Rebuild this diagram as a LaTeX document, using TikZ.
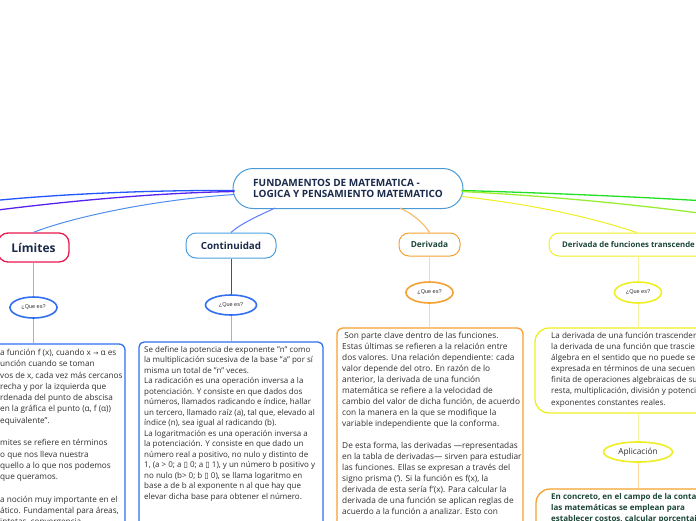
\documentclass[tikz,border=0pt]{standalone}
\usepackage{fontspec}
\setmainfont{Open Sans}
\newfontfamily\dv{DejaVu Sans}
\newfontfamily\ls{Liberation Sans}
\usetikzlibrary{shapes.geometric,calc}
\definecolor{navy}{HTML}{1A2A4A}
\definecolor{dgreen}{HTML}{1B4636}
\definecolor{body}{HTML}{2E2E2E}
\definecolor{cenB}{HTML}{4A9AD8}
\definecolor{limB}{HTML}{E8194F}
\definecolor{blueA}{HTML}{2F6FF0}
\definecolor{blueL}{HTML}{8AB4F8}
\definecolor{blueM}{HTML}{4D8EF0}
\definecolor{contB}{HTML}{4A9FE0}
\definecolor{contL}{HTML}{5A7CFF}
\definecolor{blueD}{HTML}{2A4AD8}
\definecolor{oraB}{HTML}{F5A030}
\definecolor{oraL}{HTML}{FFD59A}
\definecolor{yelB}{HTML}{EEEE22}
\definecolor{yelL}{HTML}{F6F3A0}
\definecolor{farBlue}{HTML}{2255FF}
\definecolor{farPur}{HTML}{5522EE}
\definecolor{farGreen}{HTML}{22E022}
\definecolor{farYG}{HTML}{99EE33}
\newcommand{\tofu}{{\dv\char"25AF}}
\begin{document}
\begin{tikzpicture}[x=1pt,y=-1pt,
  lbl/.style={rectangle,draw,line width=1.3pt,inner sep=0pt},
  qes/.style={ellipse,draw,line width=1.6pt,inner sep=0pt,minimum width=47pt,minimum height=21pt,font=\ls\fontsize{5.5}{6}\selectfont,text=body},
  tbox/.style={rectangle,draw,line width=1.3pt,inner sep=0pt},
  txt/.style={anchor=north west,inner sep=0pt,align=left,text=body},
  conn/.style={line width=1pt}]
\useasboundingbox (0,0) rectangle (696,520);
% central
\node[lbl,draw=cenB,line width=1pt,rounded corners=20pt,minimum width=230pt,minimum height=40pt,align=left,text=navy,font=\bfseries\fontsize{10}{11.4}\selectfont] (c) at (348,188.5) {FUNDAMENTOS DE MATEMATICA -\\LOGICA Y PENSAMIENTO MATEMATICO};
% labels
\node[lbl,draw=limB,rounded corners=10pt,minimum width=71pt,minimum height=29pt,text=navy,font=\bfseries\fontsize{12}{14}\selectfont] (lim) at (33.5,247.5) {Límites};
\node[lbl,draw=contB,line width=1pt,rounded corners=10pt,minimum width=90pt,minimum height=25pt,text=navy,font=\bfseries\fontsize{9.8}{12}\selectfont] (cont) at (231,245.5) {Continuidad};
\node[lbl,draw=oraB,line width=1pt,rounded corners=10pt,minimum width=61pt,minimum height=23pt,text=dgreen,font=\bfseries\fontsize{8.3}{10}\selectfont] (der) at (429.5,244.5) {Derivada};
\node[lbl,draw=yelB,line width=1pt,rounded corners=10pt,minimum width=211pt,minimum height=23pt] (trans) at (654.5,244.5) {};
\node[anchor=west,inner sep=0pt,text=dgreen,font=\bfseries\fontsize{7.8}{10}\selectfont] (transT) at (562,244.5) {Derivada de funciones transcende};
% que es
\node[qes,draw=blueA] (limq) at (33.5,307.5) {¿Que es?};
\node[qes,draw=blueA,minimum width=51pt,minimum height=20pt] (contq) at (231,305) {¿Que es?};
\node[qes,draw=oraB] (derq) at (429.5,292.5) {¿Que es?};
\node[qes,draw=yelB] (transq) at (638,292.5) {¿Que es?};
\node[qes,draw=yelB,minimum width=69pt,minimum height=20pt,font=\fontsize{8.3}{10}\selectfont] (apl) at (638,452) {Aplicación};
% text boxes
\node[tbox,draw=blueA,rounded corners=6pt,minimum width=185pt,minimum height=256pt] (limbox) at (32.5,472) {};
\node[tbox,draw=blueA,rounded corners=5pt,minimum width=184pt,minimum height=258pt] (contbox) at (231,471) {};
\node[tbox,draw=oraB,rounded corners=6pt,minimum width=186pt,minimum height=272pt] (derbox) at (430,464) {};
\node[tbox,draw=yelB,rounded corners=14pt,minimum width=225pt,minimum height=85pt] (transbox) at (647.5,370.5) {};
\node[tbox,draw=oraB,rounded corners=14pt,minimum width=224pt,minimum height=111pt] (finbox) at (648,544.5) {};
% texts
\node[txt,font=\fontsize{8.2}{11.3}\selectfont] (limtxt) at (0,349) {a función f (x), cuando x {\dv\fontsize{6.5}{11.3}\selectfont →} α es\\unción cuando se toman\\vos de x, cada vez más cercanos\\recha y por la izquierda que\\rdenada del punto de abscisa\\en la gráfica el punto (α, f (α))\\equivalente".\\[11.3pt]mites se refiere en términos\\o que nos lleva nuestra\\quello a lo que nos podemos\\que queramos.\\[11.3pt]a noción muy importante en el\\ático. Fundamental para áreas,\\intotas, convergencia};
\node[txt,font=\fontsize{8}{10.5}\selectfont] (conttxt) at (144,346) {Se define la potencia de exponente "n" como\\la multiplicación sucesiva de la base "a" por sí\\misma un total de "n" veces.\\La radicación es una operación inversa a la\\potenciación. Y consiste en que dados dos\\números, llamados radicando e índice, hallar\\un tercero, llamado raíz (a), tal que, elevado al\\índice (n), sea igual al radicando (b).\\La logaritmación es una operación inversa a\\la potenciación. Y consiste en que dado un\\número real a positivo, no nulo y distinto de\\1, (a > 0; a \tofu{} 0; a \tofu{} 1), y un número b positivo y\\no nulo (b> 0; b \tofu{} 0), se llama logaritmo en\\base a de b al exponente n al que hay que\\elevar dicha base para obtener el número.};
\node[txt,font=\fontsize{8.3}{11}\selectfont] (dertxt) at (342,332) {\ Son parte clave dentro de las funciones.\\Estas últimas se refieren a la relación entre\\dos valores. Una relación dependiente: cada\\valor depende del otro. En razón de lo\\anterior, la derivada de una función\\matemática se refiere a la velocidad de\\cambio del valor de dicha función, de acuerdo\\con la manera en la que se modifique la\\variable independiente que la conforma.\\[11pt]De esta forma, las derivadas —representadas\\en la tabla de derivadas— sirven para estudiar\\las funciones. Ellas se expresan a través del\\signo prisma ('). Si la función es f(x), la\\derivada de esta sería f'(x). Para calcular la\\derivada de una función se aplican reglas de\\acuerdo a la función a analizar. Esto con};
\node[txt,font=\fontsize{8.1}{11.1}\selectfont] (transtxt) at (551,332) {La derivada de una función trascender\\la derivada de una función que trascie\\álgebra en el sentido que no puede se\\expresada en términos de una secuen\\finita de operaciones algebraicas de su\\resta, multiplicación, división y potenci\\exponentes constantes reales.};
\node[txt,text=dgreen,font=\bfseries\fontsize{8}{11}\selectfont] (fintxt) at (551,493) {En concreto, en el campo de la conta\\las matemáticas se emplean para\\establecer costos, calcular porcentaj};
% far lines
\coordinate (fl1) at (-10,201);
\coordinate (fl2) at (-10,211);
\coordinate (fr1) at (706,201);
\coordinate (fr2) at (706,214);
\draw[conn,farBlue,line width=1.3pt] ($(c.west)+(2,2)$) .. controls (150,190) and (60,194) .. (fl1);
\draw[conn,farPur,line width=1.3pt] ($(c.west)+(2,3)$) .. controls (150,193) and (60,202) .. (fl2);
\draw[conn,farGreen,line width=1.3pt] ($(c.east)+(-2,2)$) .. controls (550,193) and (640,197) .. (fr1);
\draw[conn,farYG,line width=1.3pt] ($(c.east)+(-2,3)$) .. controls (550,196) and (640,205) .. (fr2);
% branch lines
\draw[conn,blueM] ($(c.west)+(2,6)$) .. controls (150,200) and (70,218) .. (lim.north);
\draw[conn,contL] ($(c.south)+(-73,-1)$) .. controls (258,216) and (240,224) .. (cont.north);
\draw[conn,oraB!80] ($(c.south)+(52,-1)$) .. controls (415,215) and (425,225) .. (der.north);
\draw[conn,yelB] ($(c.east)+(-2,8)$) .. controls (540,205) and (600,220) .. ($(trans.north west)+(88,0)$);
% verticals
\draw[conn,blueL] (lim.south) -- (limq.north);
\draw[conn,blueL] (limq.south) -- (limq.south |- limbox.north);
\draw[conn,blueD] (cont.south) -- (contq.north);
\draw[conn,blueL] (contq.south) -- (contq.south |- contbox.north);
\draw[conn,oraL] (der.south) -- (derq.north);
\draw[conn,oraL] (derq.south) -- (derq.south |- derbox.north);
\draw[conn,yelL] (transq.north |- trans.south) -- (transq.north);
\draw[conn,yelL] (transq.south) -- (transq.south |- transbox.north);
\draw[conn,yelL] (apl.north |- transbox.south) -- (apl.north);
\draw[conn,oraL] (apl.south) -- (apl.south |- finbox.north);
\end{tikzpicture}
\end{document}
